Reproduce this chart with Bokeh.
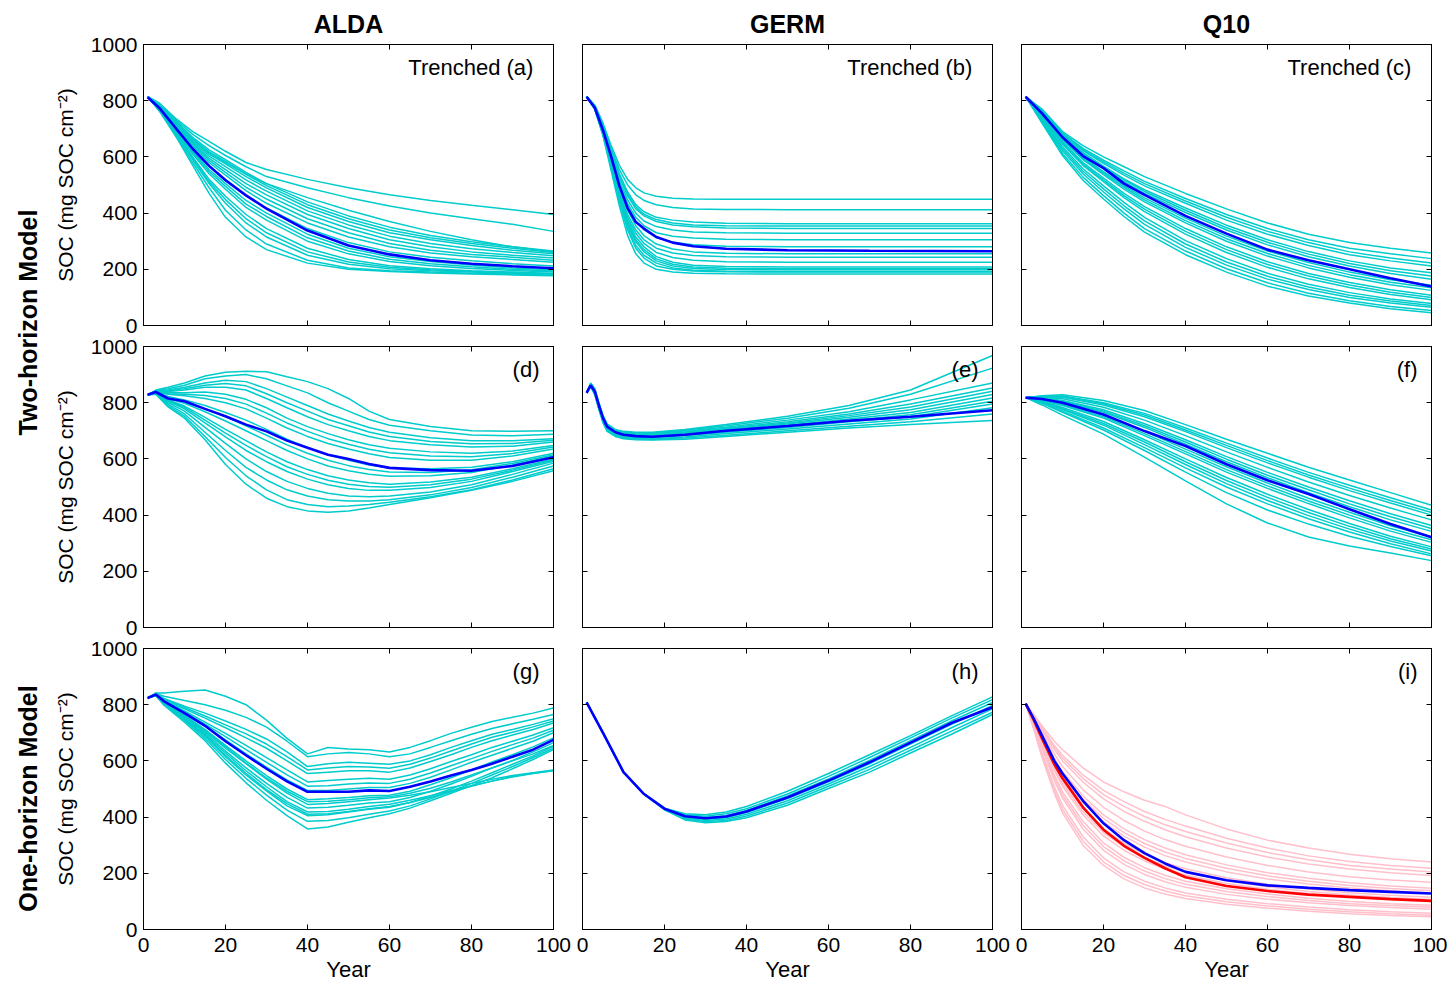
from math import pi
from bokeh.plotting import figure
from bokeh.layouts import row, column
from bokeh.models import Range1d, LinearAxis, FixedTicker, Label
from bokeh.embed import file_html
from bokeh.resources import INLINE

FONT = "Liberation Sans"
CYAN = "#00CCCC"
BLUE = "#0000FF"
RED = "#FF0000"
PINK = "#FFC0CB"

col_titles = ["ALDA", "GERM", "Q10"]
row_titles = ["Two-horizon Model", "One-horizon Model"]
panel_tags = ["Trenched  (a)", "Trenched  (b)", "Trenched  (c)",
              "(d)", "(e)", "(f)", "(g)", "(h)", "(i)"]
x_ticks = [0, 20, 40, 60, 80, 100]
y_ticks = [0, 200, 400, 600, 800, 1000]
x_title = "Year"
y_title = "SOC (mg SOC cm\u207b\u00b2)"

# ---------------- (a) ALDA, trenched, two-horizon ----------------
a_years = [1, 4, 8, 12, 16, 20, 25, 30, 40, 50, 60, 70, 80, 90, 100]
a_mean = [812, 772, 700, 629, 568, 517, 463, 416, 338, 285, 253, 232, 220, 211, 204]
a_runs = [
    [815, 790, 735, 690, 655, 620, 580, 555, 520, 490, 465, 445, 428, 412, 395],
    [815, 785, 730, 680, 640, 605, 565, 530, 490, 455, 425, 400, 380, 360, 335],
    [815, 782, 725, 670, 625, 590, 545, 505, 440, 390, 350, 320, 298, 280, 265],
    [815, 781, 722, 665, 618, 584, 538, 498, 430, 380, 340, 312, 292, 275, 260],
    [815, 778, 718, 660, 615, 580, 540, 505, 455, 410, 370, 335, 305, 280, 262],
    [815, 780, 720, 660, 610, 575, 530, 490, 420, 370, 330, 305, 285, 268, 255],
    [815, 779, 716, 655, 603, 565, 518, 478, 408, 358, 318, 292, 273, 260, 248],
    [815, 778, 712, 650, 595, 555, 505, 465, 395, 345, 305, 280, 262, 250, 240],
    [815, 777, 708, 645, 588, 545, 492, 450, 380, 330, 292, 268, 253, 243, 232],
    [815, 776, 705, 640, 580, 535, 480, 435, 365, 315, 280, 258, 245, 235, 225],
    [815, 774, 700, 630, 568, 520, 462, 418, 345, 295, 262, 243, 230, 220, 212],
    [815, 772, 695, 620, 555, 505, 445, 400, 325, 275, 245, 228, 215, 205, 198],
    [815, 771, 692, 615, 548, 495, 432, 388, 312, 265, 236, 220, 209, 200, 194],
    [815, 770, 690, 610, 540, 485, 420, 375, 300, 255, 228, 213, 203, 196, 190],
    [815, 768, 685, 600, 520, 460, 395, 345, 275, 235, 213, 202, 195, 190, 185],
    [815, 766, 682, 595, 512, 448, 380, 330, 262, 226, 207, 198, 192, 188, 184],
    [815, 765, 680, 590, 505, 435, 365, 315, 250, 218, 202, 195, 190, 186, 182],
    [815, 763, 675, 580, 490, 410, 340, 290, 232, 205, 195, 190, 186, 183, 180],
    [815, 760, 670, 570, 470, 385, 315, 270, 222, 200, 192, 187, 183, 180, 177],
]

# ---------------- (b) GERM, trenched, two-horizon ----------------
b_years = [1, 3, 5, 7, 9, 11, 13, 15, 18, 22, 27, 35, 50, 70, 100]
b_mean = [814, 775, 695, 600, 497, 418, 368, 345, 315, 295, 282, 273, 268, 266, 264]
b_runs = [
    [815, 785, 720, 640, 570, 520, 490, 472, 460, 453, 450, 449, 449, 449, 449],
    [815, 782, 712, 630, 555, 500, 465, 445, 430, 420, 415, 413, 412, 412, 412],
    [815, 780, 708, 620, 540, 475, 430, 405, 385, 375, 368, 364, 362, 362, 362],
    [815, 779, 706, 616, 534, 468, 422, 396, 377, 365, 358, 355, 354, 354, 354],
    [815, 778, 705, 612, 528, 462, 415, 390, 370, 358, 351, 347, 345, 345, 345],
    [815, 777, 700, 605, 515, 448, 400, 372, 352, 340, 333, 330, 328, 328, 328],
    [815, 776, 698, 600, 505, 435, 385, 355, 330, 318, 311, 307, 305, 305, 305],
    [815, 775, 695, 598, 500, 425, 372, 340, 313, 296, 287, 282, 280, 280, 280],
    [815, 774, 692, 590, 490, 410, 355, 320, 290, 272, 262, 257, 255, 255, 255],
    [815, 773, 688, 582, 478, 395, 340, 305, 275, 258, 249, 245, 243, 243, 243],
    [815, 773, 686, 578, 470, 385, 328, 292, 260, 242, 232, 227, 225, 225, 225],
    [815, 772, 685, 575, 465, 375, 315, 280, 245, 225, 214, 210, 208, 208, 208],
    [815, 772, 684, 572, 460, 368, 305, 270, 237, 218, 208, 204, 202, 202, 202],
    [815, 771, 682, 568, 455, 360, 298, 262, 230, 212, 203, 199, 198, 198, 198],
    [815, 770, 680, 565, 448, 350, 285, 250, 222, 205, 197, 193, 192, 192, 192],
    [815, 770, 678, 560, 440, 340, 275, 240, 212, 200, 194, 191, 190, 190, 190],
    [815, 769, 675, 550, 425, 320, 255, 222, 200, 190, 186, 184, 183, 183, 183],
]

# ---------------- (c) Q10, trenched, two-horizon ----------------
c_years = [1, 5, 10, 15, 20, 25, 30, 40, 50, 60, 70, 80, 90, 100]
c_mean = [814, 755, 670, 603, 560, 505, 465, 390, 327, 270, 232, 200, 168, 139]
c_runs = [
    [815, 770, 690, 640, 600, 565, 530, 470, 415, 365, 325, 295, 275, 258],
    [815, 765, 685, 630, 588, 550, 513, 452, 395, 345, 305, 275, 255, 238],
    [815, 763, 682, 626, 582, 542, 505, 443, 385, 335, 295, 262, 240, 222],
    [815, 762, 680, 622, 577, 535, 497, 435, 375, 325, 285, 252, 230, 212],
    [815, 760, 676, 615, 567, 522, 483, 418, 357, 305, 263, 230, 205, 188],
    [815, 758, 674, 612, 564, 518, 477, 410, 348, 296, 254, 221, 195, 176],
    [815, 757, 672, 608, 560, 512, 470, 402, 340, 287, 245, 212, 185, 165],
    [815, 752, 666, 598, 548, 498, 454, 382, 318, 265, 224, 190, 163, 143],
    [815, 750, 663, 594, 542, 492, 447, 373, 309, 256, 214, 181, 154, 134],
    [815, 748, 660, 590, 537, 485, 440, 365, 300, 247, 205, 172, 145, 125],
    [815, 744, 653, 580, 525, 470, 423, 345, 280, 227, 185, 153, 127, 108],
    [815, 742, 649, 575, 518, 462, 414, 335, 270, 217, 176, 144, 118, 100],
    [815, 740, 645, 570, 512, 455, 405, 325, 260, 207, 166, 135, 110, 92],
    [815, 735, 636, 558, 497, 438, 385, 302, 238, 186, 147, 117, 94, 78],
    [815, 731, 629, 549, 486, 426, 372, 290, 226, 175, 137, 108, 87, 71],
    [815, 728, 622, 540, 475, 415, 360, 278, 215, 165, 128, 100, 80, 65],
    [815, 725, 612, 528, 462, 400, 345, 265, 202, 152, 115, 88, 68, 53],
    [815, 720, 605, 517, 450, 388, 332, 252, 190, 140, 105, 80, 60, 45],
]

# ---------------- (d) ALDA, two-horizon ----------------
d_years = [1, 3, 6, 10, 15, 20, 25, 30, 35, 40, 45, 50, 55, 60, 70, 80, 90, 100]
d_mean = [828, 838, 815, 805, 778, 752, 722, 698, 665, 640, 615, 600, 582, 568, 560, 558, 575, 606]
d_runs = [
    [828, 845, 855, 870, 895, 908, 912, 910, 892, 875, 850, 815, 770, 740, 715, 700, 698, 700],
    [828, 843, 850, 862, 885, 895, 900, 885, 860, 835, 800, 770, 740, 720, 700, 685, 682, 688],
    [828, 842, 845, 855, 870, 880, 875, 850, 820, 790, 760, 735, 712, 695, 675, 665, 665, 672],
    [828, 841, 842, 850, 862, 868, 860, 832, 800, 770, 740, 718, 696, 680, 662, 654, 655, 666],
    [828, 840, 840, 845, 855, 855, 845, 815, 782, 750, 722, 700, 680, 665, 650, 642, 645, 660],
    [828, 840, 835, 835, 838, 830, 812, 782, 745, 715, 690, 668, 650, 638, 625, 620, 628, 648],
    [828, 839, 832, 830, 826, 815, 795, 763, 728, 698, 672, 652, 634, 622, 610, 608, 619, 642],
    [828, 838, 830, 825, 815, 800, 778, 745, 710, 680, 655, 635, 618, 605, 595, 595, 610, 635],
    [828, 837, 822, 810, 790, 765, 738, 705, 670, 640, 615, 595, 578, 568, 565, 570, 590, 620],
    [828, 836, 818, 804, 778, 750, 718, 684, 650, 620, 595, 576, 562, 553, 552, 561, 584, 615],
    [828, 836, 815, 798, 768, 735, 700, 665, 630, 600, 575, 558, 545, 538, 540, 552, 578, 610],
    [828, 835, 810, 788, 748, 705, 665, 625, 590, 562, 540, 525, 515, 510, 518, 535, 565, 600],
    [828, 834, 808, 783, 738, 692, 648, 608, 572, 545, 524, 510, 502, 499, 508, 528, 560, 596],
    [828, 834, 805, 778, 728, 678, 630, 590, 555, 528, 508, 495, 488, 488, 498, 520, 555, 592],
    [828, 833, 800, 770, 712, 655, 600, 555, 520, 495, 478, 468, 465, 468, 482, 508, 545, 585],
    [828, 832, 795, 760, 695, 630, 570, 525, 490, 468, 455, 450, 450, 455, 472, 498, 535, 575],
    [828, 831, 790, 752, 680, 605, 540, 490, 455, 438, 430, 432, 438, 446, 465, 490, 525, 565],
    [828, 830, 785, 745, 668, 580, 510, 460, 430, 415, 410, 415, 425, 438, 462, 488, 520, 558],
]

# ---------------- (e) GERM, two-horizon ----------------
e_years = [1, 2, 3, 4, 5, 6, 8, 10, 13, 17, 25, 35, 50, 65, 80, 100]
e_mean = [835, 862, 840, 790, 745, 715, 695, 686, 681, 679, 686, 700, 717, 736, 750, 773]
e_runs = [
    [835, 870, 850, 800, 755, 725, 705, 698, 695, 695, 705, 722, 752, 790, 845, 968],
    [835, 868, 848, 798, 753, 722, 702, 695, 692, 692, 702, 718, 745, 780, 830, 923],
    [835, 866, 846, 796, 750, 720, 700, 692, 689, 690, 699, 713, 738, 768, 810, 870],
    [835, 865, 844, 794, 748, 718, 698, 690, 686, 687, 696, 709, 732, 760, 795, 852],
    [835, 864, 842, 792, 746, 716, 696, 688, 684, 685, 693, 706, 728, 754, 785, 841],
    [835, 863, 840, 790, 744, 714, 694, 686, 682, 682, 690, 703, 724, 748, 775, 829],
    [835, 862, 838, 788, 742, 712, 692, 684, 680, 680, 688, 700, 720, 742, 765, 817],
    [835, 861, 836, 786, 740, 710, 690, 682, 678, 678, 686, 698, 716, 737, 757, 805],
    [835, 860, 834, 784, 738, 708, 688, 680, 676, 676, 683, 695, 712, 732, 750, 795],
    [835, 858, 832, 780, 734, 704, 684, 676, 672, 672, 678, 690, 706, 724, 742, 782],
    [835, 857, 830, 778, 731, 701, 682, 674, 670, 669, 674, 684, 700, 716, 732, 760],
    [835, 856, 828, 775, 728, 698, 680, 672, 668, 667, 670, 680, 695, 710, 722, 737],
]

# ---------------- (f) Q10, two-horizon ----------------
f_years = [1, 5, 10, 20, 30, 40, 50, 60, 70, 80, 90, 100]
f_mean = [818, 813, 800, 758, 699, 646, 581, 524, 475, 421, 368, 321]
f_runs = [
    [818, 825, 828, 808, 772, 722, 670, 620, 570, 525, 480, 435],
    [818, 823, 824, 800, 762, 710, 656, 603, 552, 506, 462, 418],
    [818, 822, 821, 796, 756, 703, 648, 594, 543, 496, 452, 409],
    [818, 821, 819, 792, 750, 697, 640, 586, 535, 487, 443, 400],
    [818, 819, 814, 784, 738, 683, 625, 570, 518, 470, 425, 383],
    [818, 817, 808, 775, 725, 668, 608, 552, 500, 451, 405, 363],
    [818, 816, 805, 770, 718, 660, 599, 542, 490, 440, 394, 352],
    [818, 815, 803, 766, 712, 652, 590, 533, 480, 430, 383, 342],
    [818, 812, 797, 756, 698, 635, 572, 514, 460, 410, 362, 322],
    [818, 810, 793, 750, 690, 626, 562, 504, 450, 400, 352, 312],
    [818, 809, 790, 745, 683, 618, 553, 495, 441, 390, 343, 303],
    [818, 806, 783, 733, 668, 600, 534, 474, 420, 370, 325, 287],
    [818, 804, 779, 726, 660, 590, 523, 463, 409, 360, 316, 279],
    [818, 803, 776, 720, 651, 580, 512, 452, 398, 350, 308, 272],
    [818, 800, 770, 710, 640, 568, 500, 440, 387, 340, 298, 262],
    [818, 798, 766, 703, 630, 553, 480, 418, 368, 325, 288, 255],
    [818, 792, 756, 688, 606, 522, 440, 372, 322, 290, 265, 238],
]

# ---------------- (g) ALDA, one-horizon ----------------
g_years = [1, 3, 5, 10, 15, 20, 25, 30, 35, 40, 45, 50, 55, 60, 65, 70, 75, 80, 85, 90, 95, 100]
g_mean = [824, 836, 812, 770, 725, 670, 620, 572, 527, 490, 490, 490, 495, 493, 508, 527, 548, 568, 590, 615, 640, 675]
g_runs = [
    [824, 842, 842, 848, 852, 830, 800, 745, 680, 625, 648, 642, 640, 632, 648, 672, 698, 720, 740, 755, 770, 788],
    [824, 840, 830, 815, 800, 780, 755, 720, 670, 615, 625, 630, 625, 615, 625, 648, 672, 695, 715, 732, 748, 765],
    [824, 838, 822, 795, 770, 742, 712, 678, 632, 580, 590, 595, 592, 588, 600, 622, 648, 672, 695, 712, 730, 750],
    [824, 837, 820, 790, 760, 728, 696, 660, 615, 568, 575, 580, 578, 574, 588, 610, 635, 660, 684, 702, 721, 742],
    [824, 837, 818, 785, 752, 718, 682, 645, 600, 555, 560, 565, 565, 560, 575, 598, 622, 648, 672, 692, 712, 735],
    [824, 836, 815, 778, 738, 698, 655, 612, 568, 525, 530, 535, 538, 535, 550, 572, 598, 622, 648, 670, 692, 718],
    [824, 836, 813, 774, 731, 686, 640, 595, 550, 510, 512, 518, 521, 520, 535, 557, 583, 608, 634, 658, 681, 709],
    [824, 836, 812, 770, 725, 675, 625, 578, 532, 495, 495, 500, 505, 505, 520, 542, 568, 595, 620, 645, 670, 700],
    [824, 835, 808, 762, 712, 655, 600, 548, 500, 462, 465, 470, 476, 478, 492, 515, 540, 568, 596, 622, 650, 682],
    [824, 835, 806, 760, 708, 650, 592, 540, 492, 455, 456, 462, 469, 472, 485, 503, 525, 550, 575, 600, 625, 655],
    [824, 834, 806, 758, 705, 645, 590, 535, 485, 445, 448, 455, 462, 468, 478, 490, 505, 520, 535, 548, 558, 568],
    [824, 834, 805, 755, 700, 635, 575, 520, 470, 432, 435, 442, 450, 455, 470, 492, 518, 545, 575, 602, 632, 665],
    [824, 834, 804, 750, 690, 620, 556, 498, 448, 410, 412, 420, 430, 438, 452, 470, 490, 510, 528, 545, 556, 566],
    [824, 833, 803, 752, 695, 628, 565, 508, 455, 418, 420, 428, 438, 446, 460, 476, 494, 512, 528, 543, 555, 565],
    [824, 834, 802, 748, 688, 615, 550, 493, 440, 405, 408, 418, 428, 435, 452, 475, 500, 528, 558, 588, 618, 652],
    [824, 833, 800, 744, 680, 605, 538, 478, 425, 385, 388, 398, 410, 422, 440, 465, 492, 520, 550, 580, 612, 645],
    [824, 833, 798, 738, 672, 592, 522, 460, 405, 358, 365, 382, 398, 412, 432, 458, 485, 512, 540, 572, 605, 640],
]

# ---------------- (h) GERM, one-horizon ----------------
h_years = [1, 5, 10, 15, 20, 25, 30, 35, 40, 50, 60, 70, 80, 90, 100]
h_mean = [808, 700, 560, 482, 430, 403, 396, 402, 420, 470, 530, 595, 665, 735, 791]
h_runs = [
    [808, 700, 560, 482, 432, 412, 408, 418, 438, 492, 555, 622, 690, 760, 828],
    [808, 700, 560, 482, 431, 408, 403, 412, 430, 482, 545, 612, 682, 752, 818],
    [808, 700, 560, 482, 430, 404, 398, 405, 424, 475, 536, 602, 672, 742, 808],
    [808, 700, 560, 482, 429, 400, 392, 398, 416, 466, 526, 590, 660, 730, 797],
    [808, 700, 560, 482, 428, 396, 388, 393, 410, 458, 518, 580, 648, 718, 785],
    [808, 700, 560, 482, 427, 393, 384, 388, 404, 450, 510, 570, 638, 706, 773],
    [808, 700, 560, 482, 426, 390, 380, 384, 398, 442, 502, 560, 628, 695, 765],
]

# ---------------- (i) Q10, one-horizon ----------------
i_years = [1, 3, 5, 8, 10, 15, 20, 25, 30, 35, 40, 50, 60, 70, 80, 90, 100]
i_blue = [804, 750, 690, 600, 555, 458, 378, 318, 272, 235, 205, 175, 157, 148, 140, 134, 128]
i_red = [804, 745, 680, 588, 538, 435, 355, 298, 255, 218, 186, 155, 137, 124, 116, 108, 102]
i_runs = [
    [804, 765, 725, 670, 640, 575, 525, 490, 460, 438, 408, 358, 318, 290, 268, 252, 240],
    [804, 762, 718, 655, 620, 550, 495, 455, 420, 392, 368, 325, 290, 262, 242, 228, 218],
    [804, 760, 714, 648, 610, 538, 480, 438, 402, 373, 349, 308, 274, 248, 228, 215, 205],
    [804, 758, 710, 640, 600, 525, 465, 420, 385, 355, 330, 290, 258, 233, 215, 202, 192],
    [804, 755, 702, 625, 580, 498, 435, 388, 350, 320, 296, 258, 228, 205, 188, 176, 168],
    [804, 752, 694, 610, 562, 475, 408, 358, 320, 290, 266, 230, 202, 182, 166, 155, 147],
    [804, 750, 690, 603, 553, 463, 395, 345, 306, 276, 253, 218, 191, 172, 157, 146, 138],
    [804, 748, 686, 596, 545, 452, 382, 332, 293, 263, 240, 205, 180, 162, 148, 138, 130],
    [804, 744, 677, 582, 528, 430, 358, 307, 268, 238, 216, 184, 161, 144, 131, 122, 115],
    [804, 742, 672, 574, 519, 419, 345, 294, 256, 226, 205, 174, 152, 135, 123, 114, 107],
    [804, 740, 668, 566, 510, 408, 333, 282, 244, 215, 194, 164, 143, 127, 115, 107, 100],
    [804, 735, 658, 550, 490, 385, 308, 257, 220, 193, 172, 145, 126, 111, 100, 92, 86],
    [804, 733, 651, 540, 479, 371, 295, 244, 208, 181, 161, 135, 117, 103, 92, 85, 79],
    [804, 730, 645, 530, 468, 358, 282, 232, 196, 170, 150, 125, 108, 95, 85, 78, 72],
    [804, 722, 630, 508, 442, 330, 255, 205, 172, 148, 130, 108, 92, 80, 70, 63, 58],
    [804, 717, 621, 496, 428, 315, 241, 192, 160, 137, 120, 99, 84, 72, 63, 56, 51],
    [804, 712, 612, 485, 415, 300, 228, 180, 148, 126, 110, 90, 76, 65, 56, 50, 45],
]

panels = [
    (a_years, a_runs, CYAN, [(a_mean, BLUE)]),
    (b_years, b_runs, CYAN, [(b_mean, BLUE)]),
    (c_years, c_runs, CYAN, [(c_mean, BLUE)]),
    (d_years, d_runs, CYAN, [(d_mean, BLUE)]),
    (e_years, e_runs, CYAN, [(e_mean, BLUE)]),
    (f_years, f_runs, CYAN, [(f_mean, BLUE)]),
    (g_years, g_runs, CYAN, [(g_mean, BLUE)]),
    (h_years, h_runs, CYAN, [(h_mean, BLUE)]),
    (i_years, i_runs, PINK, [(i_red, RED), (i_blue, BLUE)]),
]

# ---------------- layout geometry ----------------
FW, FH = 410, 281
LABEL_W = 50
LEFT = [93, 11, 11]
RIGHT = [18, 18, 16]
TOP = [44, 11, 11]
BOTTOM = [10, 10, 55]


def style_axis(ax, ticks, show, standoff=6):
    ax.ticker = FixedTicker(ticks=ticks)
    ax.major_tick_in = 5
    ax.major_tick_out = 0
    ax.minor_tick_line_color = None
    ax.axis_line_color = "black"
    ax.axis_line_width = 1
    ax.major_tick_line_color = "black"
    ax.major_label_text_font = FONT
    ax.major_label_text_color = "black"
    if show:
        ax.major_label_text_font_size = "21px"
        ax.major_label_standoff = standoff
    else:
        ax.major_label_text_font_size = "0px"
        ax.major_label_standoff = 0
        ax.major_label_overrides = {t: "" for t in ticks}


figs = []
for k, (yrs, runs, run_color, means) in enumerate(panels):
    r, c = divmod(k, 3)
    p = figure(x_range=Range1d(0, 100), y_range=Range1d(0, 1000),
               frame_width=FW, frame_height=FH,
               min_border_left=LEFT[c], min_border_right=RIGHT[c],
               min_border_top=TOP[r], min_border_bottom=BOTTOM[r],
               toolbar_location=None, output_backend="svg")
    if r == 0:
        p.title.text = col_titles[c]
        p.title.align = "center"
        p.title.vertical_align = "middle"
        p.title.text_font = FONT
        p.title.text_font_size = "25px"
        p.title.text_font_style = "bold"
        p.title.text_color = "black"
        p.title.standoff = 12
    p.add_layout(LinearAxis(), "above")
    p.add_layout(LinearAxis(), "right")
    p.xgrid.visible = False
    p.ygrid.visible = False
    p.outline_line_color = "black"
    p.background_fill_color = "white"
    p.border_fill_color = "white"

    for ax in p.below:
        style_axis(ax, x_ticks, r == 2, standoff=8)
    for ax in p.above:
        style_axis(ax, x_ticks, False)
    for ax in p.left:
        style_axis(ax, y_ticks, c == 0)
    for ax in p.right:
        style_axis(ax, y_ticks, False)

    if c == 0:
        ax = p.left[0]
        ax.axis_label = y_title
        ax.axis_label_text_font = FONT
        ax.axis_label_text_font_size = "21px"
        ax.axis_label_text_font_style = "normal"
        ax.axis_label_text_color = "black"
        ax.axis_label_standoff = 11
    if r == 2:
        ax = p.below[0]
        ax.axis_label = x_title
        ax.axis_label_text_font = FONT
        ax.axis_label_text_font_size = "22px"
        ax.axis_label_text_font_style = "normal"
        ax.axis_label_text_color = "black"
        ax.axis_label_standoff = 2

    p.multi_line(xs=[yrs] * len(runs), ys=runs, line_color=run_color, line_width=1.5)
    for ys, col in means:
        p.line(yrs, ys, line_color=col, line_width=2.6)

    p.add_layout(Label(x=FW - 14, y=FH - 23, x_units="screen", y_units="screen",
                       text=panel_tags[k], text_align="right", text_baseline="middle",
                       text_font=FONT, text_font_size="22px", text_color="black"))
    figs.append(p)


def side_label(text, h, ypos):
    q = figure(width=LABEL_W, height=h, x_range=Range1d(0, 1), y_range=Range1d(0, 1),
               x_axis_location=None, y_axis_location=None, min_border=0,
               toolbar_location=None, output_backend="svg")
    q.xgrid.visible = False
    q.ygrid.visible = False
    q.outline_line_color = None
    q.border_fill_color = "white"
    q.add_layout(Label(x=27, y=ypos, x_units="screen", y_units="screen", text=text,
                       angle=pi / 2, text_align="center", text_baseline="middle",
                       text_font=FONT, text_font_size="25px", text_font_style="bold",
                       text_color="black"))
    return q


h_rows = [TOP[i] + FH + BOTTOM[i] for i in range(3)]
h_two = h_rows[0] + h_rows[1]
lab_two = side_label(row_titles[0], h_two, h_two - 322)
lab_one = side_label(row_titles[1], h_rows[2], h_rows[2] - (798 - h_two))

grid = column(row(*figs[0:3]), row(*figs[3:6]), row(*figs[6:9]))
layout = row(column(lab_two, lab_one), grid)

open("out.html", "w").write(file_html(layout, INLINE, title="SOC"))
